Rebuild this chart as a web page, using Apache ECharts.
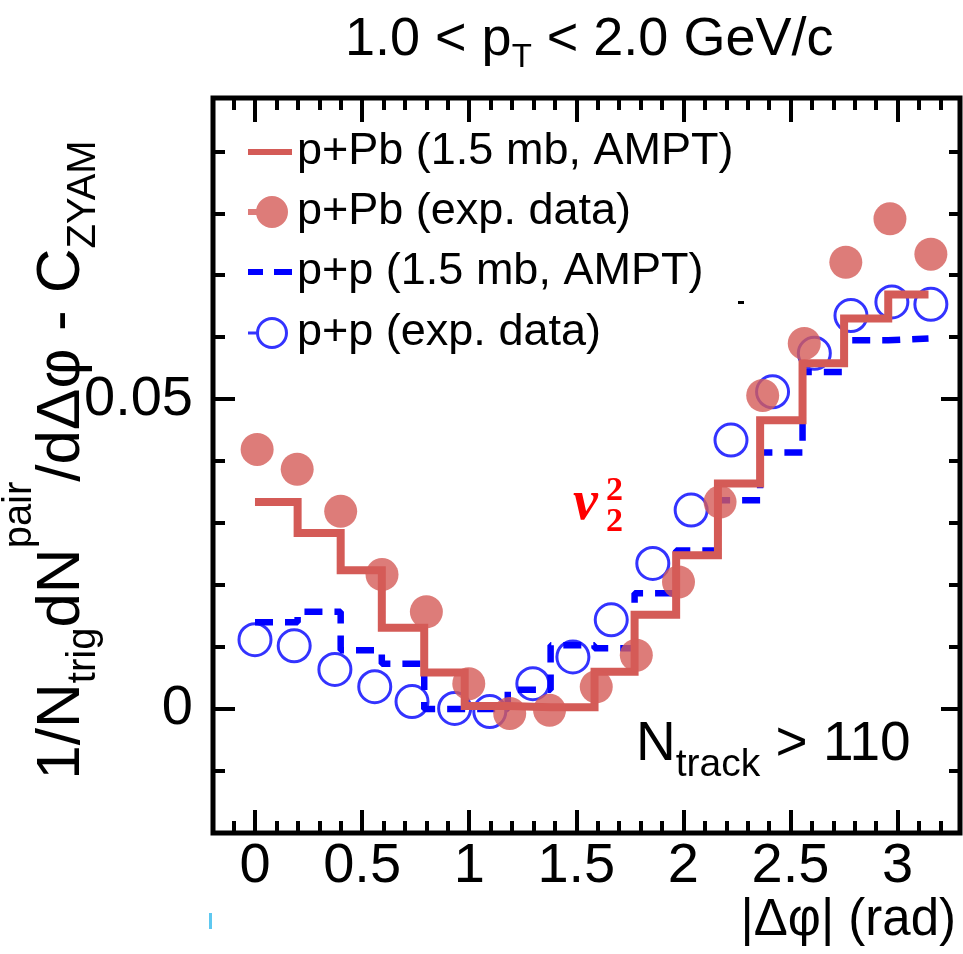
<!DOCTYPE html>
<html>
<head>
<meta charset="utf-8">
<script src="https://cdn.jsdelivr.net/npm/echarts@6/dist/echarts.min.js"></script>
<style>
html,body{margin:0;padding:0;background:#fff;}
#chart{width:963px;height:954px;}
</style>
</head>
<body>
<div id="chart"></div>
<script>
// ---- data ----
const seriesNames = ['p+Pb (1.5 mb, AMPT)', 'p+Pb (exp. data)', 'p+p (1.5 mb, AMPT)', 'p+p (exp. data)'];

// p+Pb experimental points
const pPbExpX = [0.01, 0.197, 0.40, 0.593, 0.80, 0.998, 1.189, 1.375, 1.593, 1.78, 1.977, 2.171, 2.37, 2.564, 2.758, 2.964, 3.155];
const pPbExpY = [0.0419, 0.0387, 0.0319, 0.0217, 0.0157, 0.0041, -0.0007, -0.0002, 0.0036, 0.0087, 0.0205, 0.0334, 0.0506, 0.0590, 0.0721, 0.0791, 0.0734];

// AMPT histograms (step edges)
const amptX = [0, 0.199, 0.40, 0.592, 0.79, 0.979, 1.18, 1.38, 1.585, 1.772, 1.966, 2.161, 2.358, 2.556, 2.75, 2.956, 3.144];
const pPbAmptY = [0.0334, 0.0284, 0.0224, 0.0131, 0.0059, 0.0005, 0.0003, 0.0003, 0.0060, 0.0152, 0.0248, 0.0364, 0.0466, 0.0558, 0.0630, 0.0669, 0.0669];
const ppAmptY = [0.0140, 0.0157, 0.0095, 0.0073, 0.0000, 0.0000, 0.0031, 0.0103, 0.0098, 0.0187, 0.0256, 0.0337, 0.0414, 0.0544, 0.0595, 0.0598, 0.0598];

// p+p experimental points
const ppExpX = [0.0, 0.183, 0.373, 0.559, 0.733, 0.932, 1.096, 1.297, 1.484, 1.663, 1.857, 2.036, 2.222, 2.416, 2.611, 2.782, 2.973, 3.155];
const ppExpY = [0.0112, 0.0102, 0.0064, 0.0036, 0.0012, 0.0001, -0.0004, 0.0041, 0.0084, 0.0144, 0.0235, 0.0321, 0.0434, 0.0512, 0.0574, 0.0635, 0.0657, 0.0653];

// axis ticks / labels
const xMajorTicks = [0, 0.5, 1, 1.5, 2, 2.5, 3];
const xMinorTicks = [-0.1, 0, 0.1, 0.2, 0.3, 0.4, 0.5, 0.6, 0.7, 0.8, 0.9, 1.0, 1.1, 1.2, 1.3, 1.4, 1.5, 1.6, 1.7, 1.8, 1.9, 2.0, 2.1, 2.2, 2.3, 2.4, 2.5, 2.6, 2.7, 2.8, 2.9, 3.0, 3.1, 3.2];
const yMajorTicks = [0, 0.05];
const yMinorTicks = [-0.01, 0, 0.01, 0.02, 0.03, 0.04, 0.05, 0.06, 0.07, 0.08, 0.09];

// ---- styling ----
const RED = '#d45b57';
const BLUE = '#0000ff';
const SANS = '"Liberation Sans", Arial, Helvetica, sans-serif';
const X_MIN = -0.196, X_MAX = 3.291;
const Y_MIN = -0.02, Y_MAX = 0.0986;

function pairs(xs, ys) { return xs.map((x, i) => [x, ys[i]]); }

function xAxisDef(pos, ticks, len, withLabels) {
  return {
    type: 'value', min: X_MIN, max: X_MAX, position: pos,
    axisLine: { show: false, onZero: false },
    splitLine: { show: false },
    axisTick: { show: true, inside: true, length: len, customValues: ticks, lineStyle: { color: '#000', width: 4 } },
    axisLabel: withLabels ? { show: true, customValues: xMajorTicks, margin: 6, fontSize: 56, fontFamily: SANS, color: '#000' } : { show: false }
  };
}
function yAxisDef(pos, ticks, len, withLabels) {
  return {
    type: 'value', min: Y_MIN, max: Y_MAX, position: pos,
    axisLine: { show: false, onZero: false },
    splitLine: { show: false },
    axisTick: { show: true, inside: true, length: len, customValues: ticks, lineStyle: { color: '#000', width: 4 } },
    axisLabel: withLabels ? { show: true, customValues: yMajorTicks, margin: 20, fontSize: 56, fontFamily: SANS, color: '#000' } : { show: false }
  };
}

function legendDef(name, top, iconPath, itemHeight, color) {
  return {
    show: true, left: 248, top: top, orient: 'horizontal', padding: 0,
    selectedMode: false, itemWidth: 44, itemHeight: itemHeight, symbolKeepAspect: true,
    textStyle: { fontSize: 45, fontFamily: SANS, color: '#000', lineHeight: 50 },
    data: [{ name: name, icon: iconPath, itemStyle: { color: color, borderWidth: 0, borderColor: 'transparent' } }]
  };
}

const chart = echarts.init(document.getElementById('chart'), null, { renderer: 'canvas' });

const option = {
  backgroundColor: '#ffffff',
  animation: false,
  grid: {
    left: 213, top: 98, width: 747, height: 735,
    show: true, borderColor: '#000', borderWidth: 5, backgroundColor: 'transparent',
    containLabel: false, outerBoundsMode: 'none'
  },
  xAxis: [
    xAxisDef('bottom', xMajorTicks, 23, true),
    xAxisDef('bottom', xMinorTicks, 12, false),
    xAxisDef('top', xMajorTicks, 24, false),
    xAxisDef('top', xMinorTicks, 12, false)
  ],
  yAxis: [
    yAxisDef('left', yMajorTicks, 22, true),
    yAxisDef('left', yMinorTicks, 12, false),
    yAxisDef('right', yMajorTicks, 19, false),
    yAxisDef('right', yMinorTicks, 11, false)
  ],
  legend: [
    legendDef(seriesNames[0], 127, 'path://M0,0 M44,6 M0,0 L44,0 L44,6 L0,6 Z', 6, RED),
    legendDef(seriesNames[1], 187, 'path://M0,0 M44,32 M0,13 L9,13 L9,19 L0,19 Z M8,16 A16,16 0 1,1 40,16 A16,16 0 1,1 8,16 Z', 32, RED),
    legendDef(seriesNames[2], 247, 'path://M0,0 M44,6 M0,0 L15,0 L15,6 L0,6 Z M26,0 L44,0 L44,6 L26,6 Z', 6, BLUE),
    legendDef(seriesNames[3], 308, 'path://M0,0 M44,32 M0,14.5 L9,14.5 L9,17.5 L0,17.5 Z M8,16 A16,16 0 1,1 40,16 A16,16 0 1,1 8,16 Z M11,16 A13,13 0 1,0 37,16 A13,13 0 1,0 11,16 Z', 32, BLUE)
  ],
  series: [
    {
      name: seriesNames[3], type: 'scatter', xAxisIndex: 0, yAxisIndex: 0, z: 2,
      symbol: 'circle', symbolSize: 32,
      itemStyle: { color: 'rgba(0,0,0,0)', borderColor: BLUE, borderWidth: 3 },
      data: pairs(ppExpX, ppExpY)
    },
    {
      name: seriesNames[2], type: 'line', xAxisIndex: 0, yAxisIndex: 0, z: 3,
      step: 'end', symbol: 'none', showSymbol: false,
      lineStyle: { color: BLUE, width: 6.5, type: [18, 12], cap: 'butt' },
      itemStyle: { color: BLUE },
      data: pairs(amptX, ppAmptY)
    },
    {
      name: seriesNames[0], type: 'line', xAxisIndex: 0, yAxisIndex: 0, z: 4,
      step: 'end', symbol: 'none', showSymbol: false,
      lineStyle: { color: RED, width: 8, cap: 'butt', join: 'miter' },
      itemStyle: { color: RED },
      data: pairs(amptX, pPbAmptY)
    },
    {
      name: seriesNames[1], type: 'scatter', xAxisIndex: 0, yAxisIndex: 0, z: 5,
      symbol: 'circle', symbolSize: 33,
      itemStyle: { color: RED },
      data: pairs(pPbExpX, pPbExpY)
    }
  ],
  graphic: [
    {
      type: 'text', x: 345, y: 40, z: 10,
      style: {
        text: '{m|1.0 < p}{s|T}{m| < 2.0 GeV/c}',
        textAlign: 'left', textVerticalAlign: 'middle', fill: '#000',
        rich: {
          m: { font: '54px "Liberation Sans", Arial, sans-serif', fill: '#000' },
          s: { font: '33px "Liberation Sans", Arial, sans-serif', fill: '#000', padding: [36, 0, 0, 0] }
        }
      }
    },
    {
      type: 'text', x: 62, y: 460, rotation: Math.PI / 2, z: 10,
      style: {
        text: '{m|1/N}{b|trig}{m|dN}{p|pair}{m|/dΔφ - C}{b|ZYAM}',
        textAlign: 'center', textVerticalAlign: 'middle', fill: '#000',
        rich: {
          m: { font: '62px "Liberation Sans", Arial, sans-serif', fill: '#000' },
          b: { font: '40px "Liberation Sans", Arial, sans-serif', fill: '#000', padding: [44, 0, 0, 0] },
          p: { font: '40px "Liberation Sans", Arial, sans-serif', fill: '#000', padding: [0, 0, 84, 0] }
        }
      }
    },
    {
      type: 'text', x: 956, y: 921, z: 10,
      style: {
        text: '|Δφ| (rad)', font: '51px "Liberation Sans", Arial, sans-serif',
        textAlign: 'right', textVerticalAlign: 'middle', fill: '#000'
      }
    },
    {
      type: 'text', x: 636, y: 745, z: 10,
      style: {
        text: '{m|N}{s|track}{m| > 110}',
        textAlign: 'left', textVerticalAlign: 'middle', fill: '#000',
        rich: {
          m: { font: '55px "Liberation Sans", Arial, sans-serif', fill: '#000' },
          s: { font: '39px "Liberation Sans", Arial, sans-serif', fill: '#000', padding: [40, 0, 0, 0] }
        }
      }
    },
    {
      type: 'text', x: 573, y: 505, z: 10,
      style: {
        text: 'v', font: 'italic bold 56px "Liberation Serif", "DejaVu Serif", serif',
        textAlign: 'left', textVerticalAlign: 'middle', fill: '#ff0000'
      }
    },
    {
      type: 'text', x: 606, y: 491, z: 10,
      style: {
        text: '2', font: 'bold 34px "Liberation Serif", "DejaVu Serif", serif',
        textAlign: 'left', textVerticalAlign: 'middle', fill: '#ff0000'
      }
    },
    {
      type: 'text', x: 606, y: 522, z: 10,
      style: {
        text: '2', font: 'bold 34px "Liberation Serif", "DejaVu Serif", serif',
        textAlign: 'left', textVerticalAlign: 'middle', fill: '#ff0000'
      }
    },
    { type: 'rect', z: 10, shape: { x: 738, y: 301, width: 6, height: 3 }, style: { fill: '#000' } },
    { type: 'rect', z: 10, shape: { x: 209, y: 913, width: 3, height: 16 }, style: { fill: '#5ec8f0' } }
  ]
};

chart.setOption(option);
</script>
</body>
</html>
